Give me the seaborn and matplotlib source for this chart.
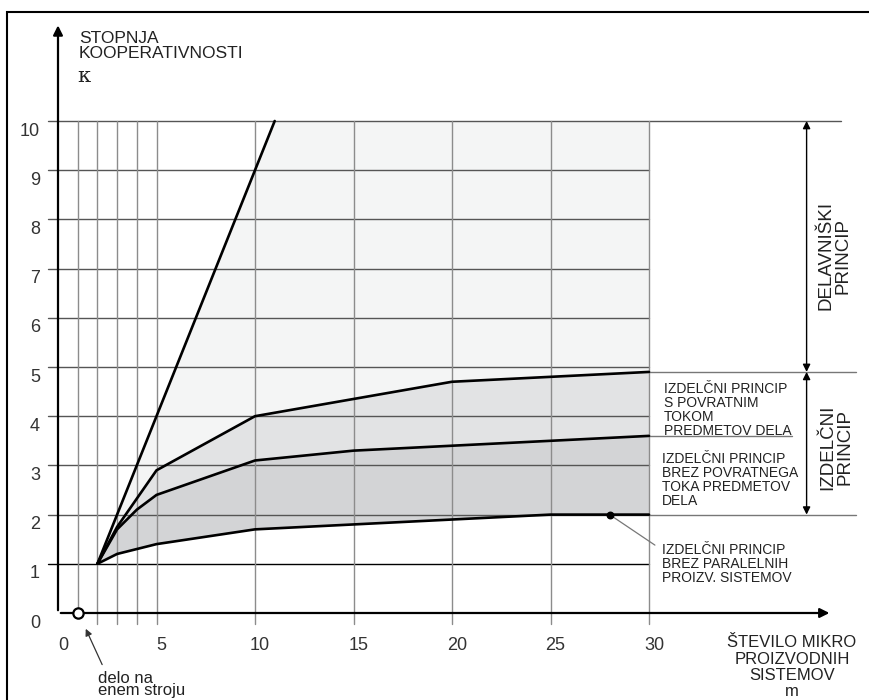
import numpy as np
import pandas as pd
import matplotlib
matplotlib.use("Agg")
import matplotlib.pyplot as plt
import matplotlib.transforms as mtransforms
from matplotlib.patches import Rectangle
import seaborn as sns

# data (m = number of micro production systems, k = degree of cooperativeness)
m_delavniski = [2, 11]
k_delavniski = [1, 10]

m_povratni = [2, 3, 5, 10, 20, 30]
k_povratni = [1, 1.75, 2.9, 4.0, 4.7, 4.9]

m_brez_povratnega = [2, 3, 4, 5, 10, 15, 30]
k_brez_povratnega = [1, 1.7, 2.1, 2.4, 3.1, 3.3, 3.6]

m_brez_paralelnih = [2, 3, 5, 10, 25, 30]
k_brez_paralelnih = [1, 1.2, 1.4, 1.7, 2.0, 2.0]

x_ticks = [0, 5, 10, 15, 20, 25, 30]
y_ticks = list(range(0, 11))
v_grid = [1, 2, 3, 4, 5, 10, 15, 20, 25, 30]

sns.set_theme(style="white")
plt.rcParams['font.family'] = ['Liberation Sans', 'DejaVu Sans']

fig = plt.figure(figsize=(8.69, 7.0), dpi=100)
ax = fig.add_axes([0, 0, 1, 1])
ax.set_facecolor("white")
ax.set_xlim(-58 / 19.7, (869 - 58) / 19.7)
ax.set_ylim(-87 / 49.2, 613 / 49.2)

# shaded regions
top_poly = list(zip(m_delavniski, k_delavniski)) + [(30, 10)] + list(zip(m_povratni, k_povratni))[::-1]
mid_poly = list(zip(m_povratni, k_povratni)) + list(zip(m_brez_povratnega, k_brez_povratnega))[::-1]
low_poly = list(zip(m_brez_povratnega, k_brez_povratnega)) + list(zip(m_brez_paralelnih, k_brez_paralelnih))[::-1]
for poly, col in [(top_poly, "#f4f5f5"), (mid_poly, "#e2e3e4"), (low_poly, "#d3d4d6")]:
    px, py = zip(*poly)
    ax.fill(px, py, color=col, lw=0, zorder=1)

# grid
for yv in y_ticks[1:]:
    xe = 39.75 if yv == 10 else 30
    col = "black" if yv == 1 else "#555555"
    ax.plot([-0.5, xe], [yv, yv], color=col, lw=1.0, zorder=2)
for xv in v_grid:
    y0 = 0 if xv == 1 else -0.22
    ax.plot([xv, xv], [y0, 10], color="#8c8c8c", lw=1.0, zorder=2)

# right side divider lines
ax.plot([30, 40.5], [k_povratni[-1]] * 2, color="#777777", lw=1.0, zorder=2)
ax.plot([30, 40.5], [k_brez_paralelnih[-1]] * 2, color="#777777", lw=1.0, zorder=2)
ax.plot([30, 37.26], [k_brez_povratnega[-1]] * 2, color="#777777", lw=1.0, zorder=2)

# curves
for xs, ys in [(m_delavniski, k_delavniski), (m_povratni, k_povratni),
               (m_brez_povratnega, k_brez_povratnega), (m_brez_paralelnih, k_brez_paralelnih)]:
    sns.lineplot(x=xs, y=ys, sort=False, estimator=None, color="black", lw=1.9, ax=ax, zorder=4)

# axes arrows
ax.annotate("", xy=(0, 12.0), xytext=(0, 0),
            arrowprops=dict(arrowstyle="-|>", color="black", lw=1.6, mutation_scale=14), zorder=5)
ax.annotate("", xy=(39.3, 0), xytext=(0, 0),
            arrowprops=dict(arrowstyle="-|>", color="black", lw=1.6, mutation_scale=14), zorder=5)

# double arrows on the right
for y_a, y_b in [(10, k_povratni[-1]), (k_povratni[-1], k_brez_paralelnih[-1])]:
    ax.annotate("", xy=(38.0, y_a), xytext=(38.0, y_b),
                arrowprops=dict(arrowstyle="<|-|>", color="black", lw=1.0,
                                mutation_scale=11, shrinkA=0, shrinkB=0), zorder=5)

# ticks
ax.spines['left'].set_position(('data', 0))
ax.spines['bottom'].set_position(('data', 0))
for s in ax.spines.values():
    s.set_visible(False)
ax.set_xticks(x_ticks)
ax.set_yticks(y_ticks)
ax.set_xticklabels([str(v) for v in x_ticks])
ax.set_yticklabels([str(v) for v in y_ticks])
ax.tick_params(axis='both', length=0, labelsize=13, colors="#333333")
ax.tick_params(axis='x', pad=17)
ax.tick_params(axis='y', pad=13)
ax.grid(False)
dx = mtransforms.ScaledTranslation(5 / 100, 0, fig.dpi_scale_trans)
dy = mtransforms.ScaledTranslation(0, -8 / 100, fig.dpi_scale_trans)
for lab in ax.get_xticklabels():
    lab.set_transform(lab.get_transform() + dx)
for lab in ax.get_yticklabels():
    lab.set_transform(lab.get_transform() + dy)

# start point marker
ax.scatter([1], [0], s=55, facecolors="white", edgecolors="black", linewidths=1.6, zorder=6)
ax.scatter([28], [2], s=22, color="black", zorder=6)
ax.plot([28, 30.3], [2, 1.38], color="#777777", lw=0.9, zorder=5)

# texts
txt = "#222222"
ax.text(1.07, 11.83, "STOPNJA\nKOOPERATIVNOSTI", fontsize=12.5, va="top", ha="left",
        linespacing=1.0, color=txt)
ax.text(1.0, 10.79, "κ", fontsize=15, family="DejaVu Serif", va="baseline", ha="left", color=txt)

ax.text(39.4, 7.26, "DELAVNIŠKI\nPRINCIP", rotation=90, fontsize=13.5, ha="center", va="center",
        linespacing=1.0, color=txt)
ax.text(39.5, 3.37, "IZDELČNI\nPRINCIP", rotation=90, fontsize=13.5, ha="center", va="center",
        linespacing=1.0, color=txt)

ax.text(30.76, 4.70, "IZDELČNI PRINCIP\nS POVRATNIM\nTOKOM\nPREDMETOV DELA", fontsize=10,
        ha="left", va="top", linespacing=1.0, color=txt)
ax.text(30.66, 3.27, "IZDELČNI PRINCIP\nBREZ POVRATNEGA\nTOKA PREDMETOV\nDELA", fontsize=10,
        ha="left", va="top", linespacing=1.0, color=txt)
ax.text(30.66, 1.42, "IZDELČNI PRINCIP\nBREZ PARALELNIH\nPROIZV. SISTEMOV", fontsize=10,
        ha="left", va="top", linespacing=1.0, color=txt)

ax.text(37.26, -0.45, "ŠTEVILO MIKRO\nPROIZVODNIH\nSISTEMOV\nm", fontsize=12, ha="center",
        va="top", linespacing=1.12, color=txt)

ax.text(2.03, -1.17, "delo na\nenem stroju", fontsize=12, ha="left", va="top",
        linespacing=0.8, color=txt)
ax.annotate("", xy=(1.35, -0.27), xytext=(2.3, -1.1),
            arrowprops=dict(arrowstyle="-|>", color="#333333", lw=0.9, mutation_scale=10))

# outer frame
fig.add_artist(Rectangle((7 / 869, -0.1), 1.2, 1.1 - 12 / 700, transform=fig.transFigure,
                         fill=False, ec="black", lw=1.5))

fig.savefig("out.png", dpi=100)
